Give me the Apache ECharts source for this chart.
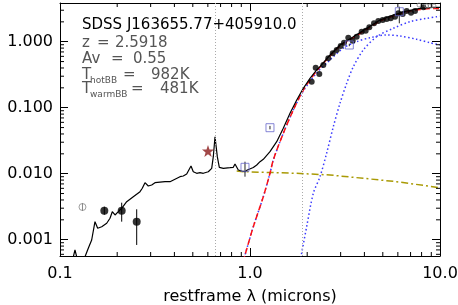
<!DOCTYPE html>
<html>
<head>
<meta charset="utf-8">
<script src="https://cdn.jsdelivr.net/npm/echarts@6/dist/echarts.min.js"></script>
<style>
html,body{margin:0;padding:0;background:#fff;}
#chart{width:458px;height:305px;}
</style>
</head>
<body>
<div id="chart"></div>
<script>
// ---------------- data ----------------
const xMin = 0.1, xMax = 10;
const yMin = 0.000566, yMax = 3.86;

const xTickValues = [0.1, 1, 10];
const xTickLabels = ['0.1', '1.0', '10.0'];
const yTickValues = [0.001, 0.01, 0.1, 1];
const yTickLabels = ['0.001', '0.010', '0.100', '1.000'];
const xMinorTicks = [0.2,0.3,0.4,0.5,0.6,0.7,0.8,0.9,2,3,4,5,6,7,8,9];
const yMinorTicks = [0.0006,0.0007,0.0008,0.0009,0.002,0.003,0.004,0.005,0.006,0.007,0.008,0.009,
  0.02,0.03,0.04,0.05,0.06,0.07,0.08,0.09,0.2,0.3,0.4,0.5,0.6,0.7,0.8,0.9,2,3];

// total model / composite spectrum (black)
const totalLam = [0.1171,0.1199,0.1229,0.1354,0.1409,0.1468,0.1528,0.1579,0.1658,0.1761,0.1833,0.1885,0.1948,0.2027,0.2112,0.2244,0.2431,0.2637,0.2711,0.2801,0.2915,0.3038,0.3162,0.3570,0.3793,0.4281,0.4455,0.4643,0.4892,0.5030,0.5242,0.5455,0.5678,0.6033,0.6287,0.6410,0.6544,0.6729,0.6894,0.7238,0.7847,0.8167,0.8338,0.8677,0.9042,0.9412,0.9678,1.041,1.085,1.129,1.175,1.274,1.382,1.497,1.624,1.762,1.908,2.069,2.244,2.336,2.637,2.976,3.498,4.113,4.833,5.679,6.679,7.847,9.220,10];
const totalFlux = [0.000528,0.000698,0.000528,0.000552,0.000741,0.000989,0.001875,0.001489,0.001574,0.001772,0.002110,0.002656,0.002368,0.002656,0.002992,0.003765,0.004485,0.005337,0.006010,0.007305,0.006511,0.006742,0.007305,0.007565,0.007565,0.009010,0.009230,0.009890,0.01309,0.01072,0.01014,0.01035,0.01014,0.01072,0.01207,0.01810,0.03636,0.01810,0.01250,0.01207,0.01233,0.01250,0.01403,0.01138,0.01099,0.01072,0.01138,0.01242,0.01355,0.01520,0.01653,0.02154,0.03053,0.04875,0.08226,0.1309,0.1968,0.2789,0.3727,0.4183,0.6287,0.8913,1.191,1.596,2.132,2.538,2.918,3.207,3.321,3.321];

// sum of blackbodies (red dashed)
const bbSumLam = [0.9187,0.9412,1.041,1.175,1.274,1.326,1.497,1.690,1.908,2.244,2.637,2.976,3.498,4.113,4.833,5.679,6.679,7.847,9.220,10];
const bbSumFlux = [0.000459,0.000586,0.001574,0.004485,0.01014,0.01613,0.04093,0.09230,0.1854,0.3598,0.6070,0.8607,1.150,1.541,2.059,2.451,2.818,3.075,3.185,3.185];

// hot blackbody (blue dotted)
const hotLam = [0.9187,0.9412,1.041,1.175,1.274,1.326,1.497,1.690,1.908,2.244,2.637,3.098,3.643,4.281,5.242,6.160,7.541,8.858,10];
const hotFlux = [0.000459,0.000586,0.001574,0.004485,0.01014,0.01613,0.04093,0.09230,0.1791,0.3355,0.5280,0.8027,1.0,1.150,1.264,1.220,1.087,0.9656,0.8913];

// warm blackbody (blue dotted)
const warmLam = [1.833,1.987,2.154,2.336,2.533,2.745,2.976,3.228,3.498,3.947,4.643,5.679,6.952,8.511,9.608,10];
const warmFlux = [0.000459,0.001574,0.005047,0.009010,0.02060,0.05152,0.1166,0.2343,0.4183,0.7484,1.191,1.596,2.010,2.262,2.392,2.426];

// quasar continuum extension (olive dash-dot)
const qsoLam = [0.8511,0.9219,1.762,2.637,3.947,5.918,10];
const qsoFlux = [0.01099,0.01072,0.01014,0.009550,0.008515,0.007565,0.006137];

// emission line markers
const lineLam = [0.6563, 1.875];

// photometry: black filled points (UV, with error bars)
const uvLam = [0.1711, 0.2112, 0.2533];
const uvFlux = [0.002749, 0.002749, 0.001875];
const uvHi = [0.003165, 0.003637, 0.002889];
const uvLo = [0.002388, 0.001875, 0.000832];

// photometry: black points (IR spectrum)
const irLam = [2.112,2.217,2.316,2.431,2.583,2.725,2.860,3.002,3.124,3.291,3.472,3.643,3.871,4.063,4.246,4.494,4.735,4.994,5.242,5.503,5.798,6.034,6.363,6.679,7.037,7.385,8.168];
const irFlux = [0.2477,0.4036,0.3241,0.4436,0.5603,0.6672,0.7484,0.8605,0.9656,1.150,1.036,1.191,1.418,1.468,1.653,1.900,2.059,2.132,2.208,2.262,2.392,2.694,2.629,2.918,2.750,2.918,3.321];

// photometry: blue open squares
const sqLam = [0.9412, 1.274, 3.332, 6.107];
const sqFlux = [0.01250, 0.04977, 0.8913, 2.848];
const sqHi = [0.01520, 0.05300, 0.9300, 3.39];
const sqLo = [0.00901, 0.04700, 0.8550, 1.90];

// gray open circles
const grayLam = [0.1313, 7.752, 8.511, 8.858, 9.299];
const grayFlux = [0.003128, 3.597, 3.475, 3.475, 3.475];
const grayHi = [0.00360, null, null, null, null];
const grayLo = [0.00272, null, null, null, null];

// star
const starLam = [0.6011];
const starFlux = [0.02208];

// text
const objName = 'SDSS J163655.77+405910.0';
const zText = '2.5918';
const avText = '0.55';
const tHotText = '982K';
const tWarmText = '481K';

// ---------------- chart ----------------
const FONT = 'DejaVu Sans';
const zip = (a, b) => a.map((v, i) => [v, b[i]]);
function fmt(values, labels) {
  return function (v) {
    for (let i = 0; i < values.length; i++) {
      if (Math.abs(Math.log10(v) - Math.log10(values[i])) < 1e-6) return labels[i];
    }
    return '';
  };
}
function errBars(lam, lo, hi, color) {
  const d = [];
  lam.forEach((l, i) => { if (lo[i] != null) d.push([l, lo[i], hi[i]]); });
  return {
    type: 'custom', xAxisIndex: 0, yAxisIndex: 0, z: 4,
    data: d, encode: { x: 0, y: [1, 2] },
    renderItem: function (params, api) {
      const p1 = api.coord([api.value(0), api.value(1)]);
      const p2 = api.coord([api.value(0), api.value(2)]);
      return { type: 'line', shape: { x1: p1[0], y1: p1[1], x2: p2[0], y2: p2[1] },
        style: { stroke: color, lineWidth: 1 } };
    }
  };
}
function txt(x, y, s, size, color) {
  return { type: 'text', x: x, y: y, z: 10,
    style: { text: s, font: size + 'px "DejaVu Sans"', fill: color, verticalAlign: 'middle' } };
}
const starPath = 'path://M0,-10L2.35,-3.24L9.51,-3.09L3.8,1.24L5.88,8.09L0,4L-5.88,8.09L-3.8,1.24L-9.51,-3.09L-2.35,-3.24Z';

const chart = echarts.init(document.getElementById('chart'), null, { renderer: 'canvas' });
const axisLineStyle = { color: '#000', width: 1 };
const G = '#555';
const option = {
  animation: false,
  backgroundColor: '#fff',
  grid: { left: 60, right: 18, top: 3, bottom: 49, containLabel: false, outerBoundsMode: 'none' },
  xAxis: [
    { type: 'log', min: xMin, max: xMax, position: 'bottom',
      axisLine: { show: true, lineStyle: axisLineStyle },
      axisTick: { show: true, inside: true, length: 8, lineStyle: axisLineStyle },
      axisLabel: { formatter: fmt(xTickValues, xTickLabels), color: '#000', fontSize: 16, fontFamily: FONT, margin: 10, showMinLabel: true, showMaxLabel: true, hideOverlap: false },
      splitLine: { show: false },
      name: 'restframe λ (microns)', nameLocation: 'middle', nameGap: 33,
      nameTextStyle: { color: '#000', fontSize: 16, fontFamily: FONT } },
    { type: 'log', min: xMin, max: xMax, position: 'top',
      axisLine: { show: true, lineStyle: axisLineStyle },
      axisTick: { show: true, inside: true, length: 8, lineStyle: axisLineStyle },
      axisLabel: { show: false }, splitLine: { show: false } }
  ],
  yAxis: [
    { type: 'log', min: yMin, max: yMax, position: 'left',
      axisLine: { show: true, lineStyle: axisLineStyle },
      axisTick: { show: true, inside: true, length: 8, lineStyle: axisLineStyle },
      axisLabel: { formatter: fmt(yTickValues, yTickLabels), color: '#000', fontSize: 16, fontFamily: FONT, margin: 7 },
      splitLine: { show: false } },
    { type: 'log', min: yMin, max: yMax, position: 'right',
      axisLine: { show: true, lineStyle: axisLineStyle },
      axisTick: { show: true, inside: true, length: 8, lineStyle: axisLineStyle },
      axisLabel: { show: false }, splitLine: { show: false } }
  ],
  graphic: [
    txt(82, 25, objName, 15, '#000'),
    txt(82, 43, 'z', 15, G), txt(97, 43, '=', 15, G), txt(115, 43, zText, 15, G),
    txt(82, 59, 'Av', 15, G), txt(111, 59, '=', 15, G), txt(133, 59, avText, 15, G),
    txt(82, 75, 'T', 15, G), txt(90, 80.5, 'hotBB', 9, G), txt(123, 75, '=', 15, G), txt(151, 75, tHotText, 15, G),
    txt(82, 89, 'T', 15, G), txt(90, 94.5, 'warmBB', 9, G), txt(131, 89, '=', 15, G), txt(160, 89, tWarmText, 15, G)
  ],
  series: [
    { type: 'line', name: 'lines', data: [], xAxisIndex: 0, yAxisIndex: 0,
      markLine: { silent: true, symbol: ['none', 'none'], label: { show: false },
        lineStyle: { color: '#aaa', type: [1, 2], width: 1 },
        data: lineLam.map(l => ({ xAxis: l })) } },
    { type: 'line', name: 'qso', data: zip(qsoLam, qsoFlux), showSymbol: false, z: 2,
      lineStyle: { color: '#a99a05', width: 1.5, type: [7, 3, 2, 3] } },
    { type: 'line', name: 'hot', data: zip(hotLam, hotFlux), showSymbol: false, smooth: 0.3, z: 2,
      lineStyle: { color: '#3a3aff', width: 1.5, type: [1.5, 2.5] } },
    { type: 'line', name: 'warm', data: zip(warmLam, warmFlux), showSymbol: false, smooth: 0.3, z: 2,
      lineStyle: { color: '#3a3aff', width: 1.5, type: [1.5, 2.5] } },
    { type: 'line', name: 'bbsum', data: zip(bbSumLam, bbSumFlux), showSymbol: false, smooth: 0.3, z: 3,
      lineStyle: { color: '#ff1010', width: 1.5, type: [6, 3] } },
    { type: 'line', name: 'total', data: zip(totalLam, totalFlux), showSymbol: false, z: 3,
      lineStyle: { color: '#000', width: 1.2 } },
    errBars(uvLam, uvLo, uvHi, '#000'),
    errBars(sqLam, sqLo, sqHi, '#222'),
    errBars(grayLam, grayLo, grayHi, '#888'),
    { type: 'scatter', name: 'uv', data: zip(uvLam, uvFlux), symbol: 'circle', symbolSize: 8, z: 5,
      itemStyle: { color: '#000' } },
    { type: 'scatter', name: 'ir', data: zip(irLam, irFlux), symbol: 'circle', symbolSize: 6, z: 5,
      itemStyle: { color: '#000' } },
    { type: 'scatter', name: 'sq', data: zip(sqLam, sqFlux), symbol: 'rect', symbolSize: 8, z: 5,
      itemStyle: { color: 'rgba(0,0,0,0)', borderColor: '#6868cc', borderWidth: 1 } },
    { type: 'scatter', name: 'gray', data: zip(grayLam, grayFlux), symbol: 'circle', z: 5,
      symbolSize: function (v, p) { return p.dataIndex === 0 ? 7 : 4; },
      itemStyle: { color: 'rgba(0,0,0,0)', borderColor: '#888', borderWidth: 1 } },
    { type: 'scatter', name: 'star', data: zip(starLam, starFlux), symbol: starPath, symbolSize: 12, z: 5,
      itemStyle: { color: '#8b1a1a' } },
    { type: 'custom', name: 'yminor', xAxisIndex: 0, yAxisIndex: 0, z: 6, silent: true,
      data: yMinorTicks.map(v => [v]), encode: { y: 0 },
      renderItem: function (params, api) {
        const v = api.value(0);
        const l = api.coord([xMin, v]), r = api.coord([xMax, v]);
        return { type: 'group', children: [
          { type: 'line', shape: { x1: l[0], y1: l[1], x2: l[0] + 4, y2: l[1] }, style: { stroke: '#000', lineWidth: 1 } },
          { type: 'line', shape: { x1: r[0], y1: r[1], x2: r[0] - 4, y2: r[1] }, style: { stroke: '#000', lineWidth: 1 } }
        ] };
      } },
    { type: 'custom', name: 'xminor', xAxisIndex: 0, yAxisIndex: 0, z: 6, silent: true,
      data: xMinorTicks.map(v => [v]), encode: { x: 0 },
      renderItem: function (params, api) {
        const v = api.value(0);
        const b = api.coord([v, yMin]), t = api.coord([v, yMax]);
        return { type: 'group', children: [
          { type: 'line', shape: { x1: b[0], y1: b[1], x2: b[0], y2: b[1] - 4 }, style: { stroke: '#000', lineWidth: 1 } },
          { type: 'line', shape: { x1: t[0], y1: t[1], x2: t[0], y2: t[1] + 4 }, style: { stroke: '#000', lineWidth: 1 } }
        ] };
      } }
  ]
};
chart.setOption(option);
</script>
</body>
</html>
